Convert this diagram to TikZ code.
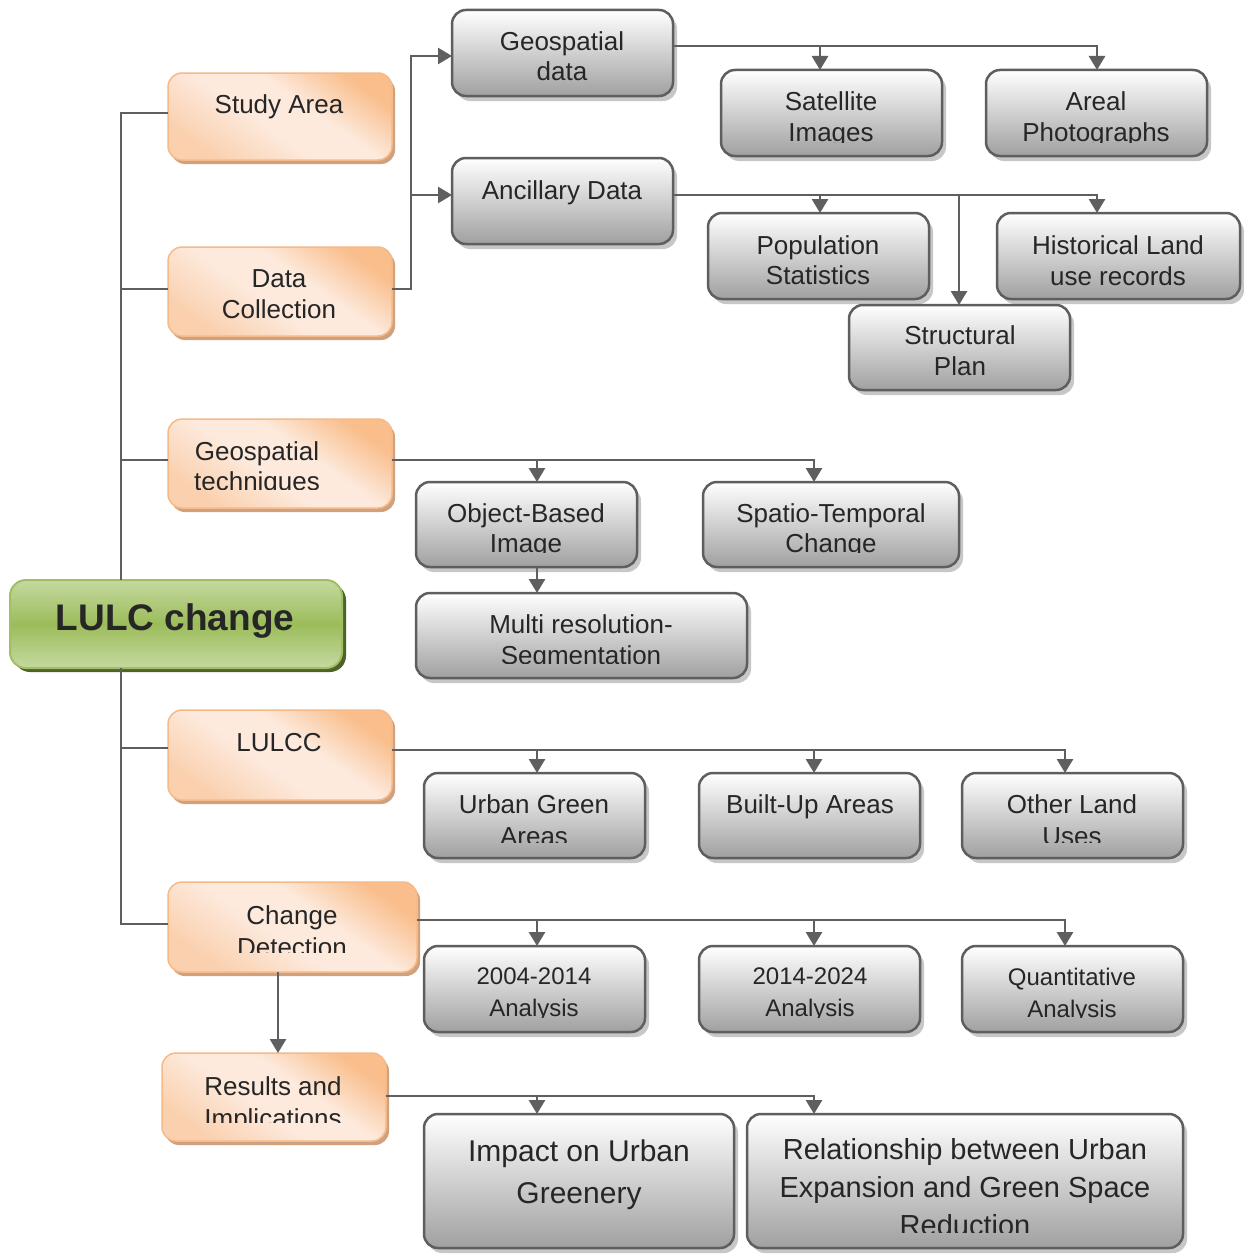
\documentclass[tikz,border=0pt]{standalone}
\usepackage{fontspec}
\setmainfont{Liberation Sans}
\usetikzlibrary{shadows,arrows.meta}
\definecolor{lc}{HTML}{5F5F5F}
\definecolor{bd}{HTML}{5E5E5E}
\definecolor{gB}{HTML}{A0A0A0}
\definecolor{tx}{HTML}{262626}
\definecolor{orD}{HTML}{F9BE8C}
\definecolor{orM}{HTML}{FAD0AE}
\definecolor{orL}{HTML}{FDEADD}
\definecolor{orB}{HTML}{F6B988}
\definecolor{orS}{HTML}{CFA17E}
\definecolor{gnL}{HTML}{C5D9A0}
\definecolor{gnD}{HTML}{9CBC5A}
\definecolor{gnB}{HTML}{A0BF62}
\definecolor{gnS}{HTML}{4F6228}
\pgfdeclareverticalshading{peachsh}{100bp}{color(0bp)=(orM); color(25bp)=(orM); color(45bp)=(orL); color(58bp)=(orL); color(75bp)=(orD); color(100bp)=(orD)}
\pgfdeclareverticalshading{greensh}{100bp}{color(0bp)=(gnL); color(25bp)=(gnL); color(50bp)=(gnD); color(75bp)=(gnL); color(100bp)=(gnL)}
\tikzset{
  gbox/.style={draw=bd, line width=2.5pt, rounded corners=14pt, top color=white, bottom color=gB,
    drop shadow={shadow xshift=4pt, shadow yshift=-5pt, fill=black!22, opacity=1}, inner sep=0pt, outer sep=0pt},
  obox/.style={draw=orB, line width=1.5pt, rounded corners=14pt, shading=peachsh, shading angle=-35,
    drop shadow={shadow xshift=3pt, shadow yshift=-4pt, fill=orS, opacity=1}, inner sep=0pt, outer sep=0pt},
  grbox/.style={draw=gnB, line width=2pt, rounded corners=16pt, shading=greensh,
    drop shadow={shadow xshift=4pt, shadow yshift=-4pt, fill=gnS, opacity=1}, inner sep=0pt, outer sep=0pt},
  txt/.style={text=tx, align=center, inner sep=0pt, font=\fontsize{26}{31}\selectfont},
  conn/.style={draw=lc, line width=2.8pt},
  arr/.style={-{Triangle[width=16pt,length=14pt]}}
}
\newcommand\mkbox[6]{\node[#1, minimum width={#5-#3}, minimum height={#6-#4}] (#2) at ({(#3+#5)/2},{(#4+#6)/2}) {};}
\newcommand\mktext[6]{%
  \coordinate (#1-c) at (0,#2);
  \begin{scope}
    \clip (#1.north west) rectangle (#1.east |- #1-c);
    \node[txt, font=#5] (#1-t) at (#3,#4) {#6};
  \end{scope}}
\begin{document}
\begin{tikzpicture}[x=1pt,y=-1pt]
\useasboundingbox (0,0) rectangle (1243,1255);
\fill[white] (0,0) rectangle (1243,1255);

% ---- boxes
\mkbox{grbox}{lulc}{10}{580}{342}{668}
\mkbox{obox}{study}{168}{73}{392}{160}
\mkbox{obox}{datac}{168}{247}{392}{336}
\mkbox{obox}{geotech}{168}{419}{392}{508}
\mkbox{obox}{lulcc}{168}{710}{392}{800}
\mkbox{obox}{change}{168}{882}{417}{972}
\mkbox{obox}{results}{162}{1053}{386}{1141}

\mkbox{gbox}{geodata}{452}{10}{673}{96}
\mkbox{gbox}{sat}{721}{70}{942}{156}
\mkbox{gbox}{areal}{986}{70}{1207}{156}
\mkbox{gbox}{ancil}{452}{158}{673}{244}
\mkbox{gbox}{pop}{708}{213}{929}{299}
\mkbox{gbox}{hist}{997}{213}{1240}{299}
\mkbox{gbox}{struct}{849}{305}{1070}{390}
\mkbox{gbox}{obia}{416}{482}{637}{567}
\mkbox{gbox}{spatio}{703}{482}{959}{567}
\mkbox{gbox}{multi}{416}{593}{747}{678}
\mkbox{gbox}{ugreen}{424}{773}{645}{858}
\mkbox{gbox}{builtup}{699}{773}{920}{858}
\mkbox{gbox}{other}{962}{773}{1183}{858}
\mkbox{gbox}{aone}{424}{946}{645}{1032}
\mkbox{gbox}{atwo}{699}{946}{920}{1032}
\mkbox{gbox}{quant}{962}{946}{1183}{1032}
\mkbox{gbox}{impact}{424}{1114}{734}{1248}
\mkbox{gbox}{relation}{747}{1114}{1183}{1248}

% ---- texts
\mktext{lulc}{668}{175}{621}{\fontsize{37}{40}\bfseries\selectfont}{LULC change}
\mktext{study}{160}{279}{107}{\fontsize{26}{31}\selectfont}{Study Area}
\mktext{datac}{336}{279}{294}{\fontsize{26}{31}\selectfont}{Data\\Collection}
\mktext{geotech}{489}{257}{469}{\fontsize{26}{30}\selectfont}{Geospatial\\techniques}
\mktext{lulcc}{800}{279}{743}{\fontsize{26}{31}\selectfont}{LULCC}
\mktext{change}{952}{292}{931}{\fontsize{26}{32}\selectfont}{Change\\Detection}
\mktext{results}{1122}{273}{1105}{\fontsize{26}{32}\selectfont}{Results and\\Implications}

\mktext{geodata}{96}{562}{56}{\fontsize{26}{30}\selectfont}{Geospatial\\data}
\mktext{sat}{142}{831}{119}{\fontsize{26}{31}\selectfont}{Satellite\\Images}
\mktext{areal}{142}{1096}{119}{\fontsize{26}{31}\selectfont}{Areal\\Photographs}
\mktext{ancil}{244}{562}{193}{\fontsize{26}{31}\selectfont}{Ancillary Data}
\mktext{pop}{299}{818}{260}{\fontsize{26}{30}\selectfont}{Population\\Statistics}
\mktext{hist}{299}{1118}{261}{\fontsize{26}{31}\selectfont}{Historical Land\\use records}
\mktext{struct}{390}{960}{351}{\fontsize{26}{31}\selectfont}{Structural\\Plan}
\mktext{obia}{552}{526}{531}{\fontsize{26}{30}\selectfont}{Object-Based\\Image}
\mktext{spatio}{552}{831}{531}{\fontsize{26}{30}\selectfont}{Spatio-Temporal\\Change}
\mktext{multi}{663}{581}{642}{\fontsize{26}{31}\selectfont}{Multi resolution-\\Segmentation}
\mktext{ugreen}{842}{534}{820}{\fontsize{26}{32}\selectfont}{Urban Green\\Areas}
\mktext{builtup}{858}{810}{807}{\fontsize{26}{31}\selectfont}{Built-Up Areas}
\mktext{other}{842}{1072}{820}{\fontsize{26}{32}\selectfont}{Other Land\\Uses}
\mktext{aone}{1017}{534}{995}{\fontsize{24}{32}\selectfont}{2004-2014\\Analysis}
\mktext{atwo}{1017}{810}{995}{\fontsize{24}{32}\selectfont}{2014-2024\\Analysis}
\mktext{quant}{1017}{1072}{995}{\fontsize{24}{32}\selectfont}{Quantitative\\Analysis}
\mktext{impact}{1248}{579}{1175}{\fontsize{30}{42}\selectfont}{Impact on Urban\\Greenery}
\mktext{relation}{1232}{965}{1187}{\fontsize{29}{38}\selectfont}{Relationship between Urban\\Expansion and Green Space\\Reduction}

% ---- column coordinates
\coordinate (T) at (121,0);
\coordinate (cA) at (820,0);
\coordinate (cB) at (1097,0);
\coordinate (cC) at (959,0);
\coordinate (cD) at (537,0);
\coordinate (cE) at (814,0);
\coordinate (cF) at (1065,0);
\coordinate (cH) at (278,0);

% ---- trunk
\draw[conn] (T |- lulc.north) |- ([yshift=3.5pt]study.west);
\draw[conn] ([yshift=2.5pt]datac.west) -- ++(-47,0);
\draw[conn] ([yshift=3.5pt]geotech.west) -- ++(-47,0);
\draw[conn] ([yshift=7pt]lulcc.west) -- ++(-47,0);
\draw[conn] (T |- lulc.south) |- ([yshift=3pt]change.west);

% ---- data collection
\draw[conn,arr] ([yshift=2.5pt]datac.east) -- ++(19,0) coordinate (dc) |- ([yshift=-3pt]geodata.west);
\path ([yshift=6pt]ancil.west) coordinate (aw);
\draw[conn,arr] (dc |- aw) -- (aw);

% ---- geospatial data
\path ([yshift=7pt]geodata.east) coordinate (ge);
\draw[conn,arr] (ge) -| (areal.north -| cB);
\draw[conn,arr] (ge -| cA) -- (sat.north -| cA);

% ---- ancillary data
\path ([yshift=6pt]ancil.east) coordinate (ae);
\draw[conn,arr] (ae) -| (hist.north -| cB);
\draw[conn,arr] (ae -| cA) -- (pop.north -| cA);
\draw[conn,arr] (ae -| cC) -- (struct.north -| cC);

% ---- geospatial techniques
\path ([yshift=3.5pt]geotech.east) coordinate (te);
\draw[conn,arr] (te) -| (spatio.north -| cE);
\draw[conn,arr] (te -| cD) -- (obia.north -| cD);
\draw[conn,arr] (obia.south -| cD) -- (multi.north -| cD);

% ---- LULCC
\path ([yshift=5pt]lulcc.east) coordinate (le);
\draw[conn,arr] (le) -| (other.north -| cF);
\draw[conn,arr] (le -| cD) -- (ugreen.north -| cD);
\draw[conn,arr] (le -| cE) -- (builtup.north -| cE);

% ---- change detection
\path ([yshift=7pt]change.east) coordinate (ce);
\draw[conn,arr] (ce) -| (quant.north -| cF);
\draw[conn,arr] (ce -| cD) -- (aone.north -| cD);
\draw[conn,arr] (ce -| cE) -- (atwo.north -| cE);
\draw[conn,arr] (change.south -| cH) -- (results.north -| cH);

% ---- results
\path ([yshift=1pt]results.east) coordinate (re);
\draw[conn,arr] (re) -| (relation.north -| cE);
\draw[conn,arr] (re -| cD) -- (impact.north -| cD);
\end{tikzpicture}
\end{document}
